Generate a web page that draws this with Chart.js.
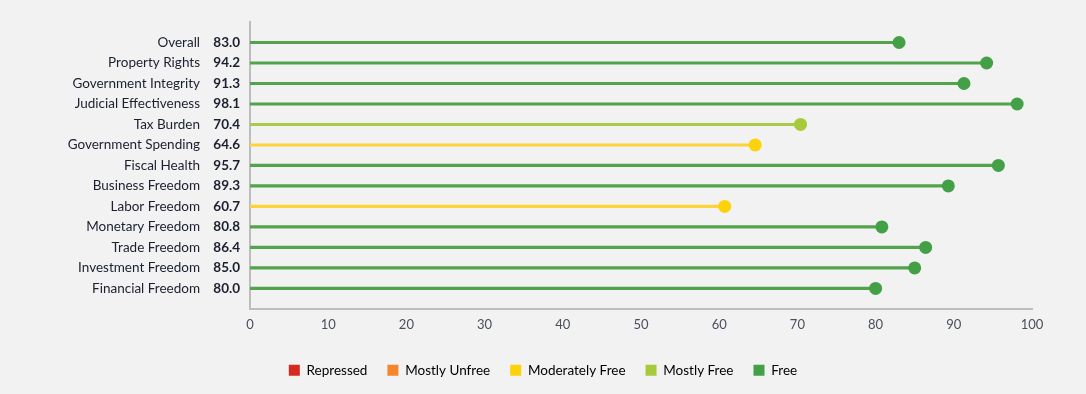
<!DOCTYPE html>
<html>
<head>
<meta charset="utf-8">
<script src="https://cdn.jsdelivr.net/npm/chart.js@4/dist/chart.umd.min.js"></script>
<style>
  html,body{margin:0;padding:0;background:#f2f2f2;}
  #wrap{width:1086px;height:394px;}
</style>
</head>
<body>
<div id="wrap"><canvas id="scoreChart" width="1086" height="394"></canvas></div>
<script>
// categories + scores
var labels=["Overall","Property Rights","Government Integrity","Judicial Effectiveness","Tax Burden","Government Spending","Fiscal Health","Business Freedom","Labor Freedom","Monetary Freedom","Trade Freedom","Investment Freedom","Financial Freedom"];
var scores=[83.0,94.2,91.3,98.1,70.4,64.6,95.7,89.3,60.7,80.8,86.4,85.0,80.0];
var ratings=["Free","Free","Free","Free","Mostly Free","Moderately Free","Free","Free","Moderately Free","Free","Free","Free","Free"];

// legend
var ratingNames=["Repressed","Mostly Unfree","Moderately Free","Mostly Free","Free"];
var ratingColors={"Repressed":"#d42a22","Mostly Unfree":"#f5862c","Moderately Free":"#fdd20b","Mostly Free":"#a6ca3a","Free":"#43a047"};
var stemColors={"Repressed":"#d42a22","Mostly Unfree":"#f5862c","Moderately Free":"#fcd43a","Mostly Free":"#a9cb48","Free":"#52a34c"};

var xTicks=[0,10,20,30,40,50,60,70,80,90,100];

var pointColors=ratings.map(function(r){return ratingColors[r];});
var lineColors=ratings.map(function(r){return stemColors[r];});

// left side labels: name + bold score
var rowLabels={
    id:"rowLabels",
    afterDraw:function(chart){
        var ctx=chart.ctx;
        var y=chart.scales.y;
        ctx.save();
        ctx.textBaseline="middle";
        ctx.textAlign="right";
        ctx.fillStyle="#1b1f2e";
        for(var i=0;i<labels.length;i++){
            var py=y.getPixelForValue(i+1);
            ctx.font="13.5px Lato";
            ctx.fillText(labels[i],200,py);
            ctx.font="bold 13.5px Lato";
            ctx.fillText(scores[i].toFixed(1),240,py);
        }
        ctx.restore();
    }
};

var ctx=document.getElementById("scoreChart").getContext("2d");
var scoreChart=new Chart(ctx,{
    type:"bar",
    data:{
        datasets:[
            {
                type:"line",
                label:"points",
                data:scores.map(function(v,i){return {x:v,y:i+1};}),
                showLine:false,
                pointRadius:6.5,
                pointBackgroundColor:pointColors,
                pointBorderWidth:0,
                order:0
            },
            {
                type:"bar",
                label:"stems",
                data:scores.map(function(v,i){return {x:v,y:i+1};}),
                backgroundColor:lineColors,
                barThickness:2.5,
                order:1
            }
        ]
    },
    options:{
        indexAxis:"y",
        responsive:false,
        animation:false,
        layout:{padding:{left:0,right:0,top:22,bottom:7}},
        scales:{
            x:{
                type:"linear",
                min:0,
                max:100,
                afterBuildTicks:function(axis){axis.ticks=xTicks.map(function(v){return {value:v};});},
                afterFit:function(axis){axis.height+=3;},
                grid:{display:false,drawTicks:false},
                border:{color:"#bdbdbd",width:2},
                ticks:{color:"#4a4f5a",font:{family:"Lato",size:13},padding:8}
            },
            y:{
                type:"linear",
                min:0,
                max:14,
                reverse:true,
                offset:false,
                afterFit:function(axis){axis.width=250;},
                grid:{display:false,drawTicks:false},
                border:{color:"#bdbdbd",width:2},
                ticks:{display:false}
            },
            yRight:{
                type:"linear",
                position:"right",
                min:0,
                max:14,
                afterFit:function(axis){axis.width=54;},
                grid:{display:false,drawTicks:false},
                border:{display:false},
                ticks:{display:false}
            }
        },
        plugins:{
            tooltip:{enabled:false},
            legend:{
                position:"bottom",
                labels:{
                    boxWidth:11,
                    boxHeight:11,
                    padding:20,
                    color:"#1b1f2e",
                    font:{family:"Lato",size:13.5},
                    generateLabels:function(){
                        return ratingNames.map(function(n){
                            return {text:n,fillStyle:ratingColors[n],strokeStyle:ratingColors[n],lineWidth:0,hidden:false};
                        });
                    }
                }
            }
        }
    },
    plugins:[rowLabels]
});
</script>
</body>
</html>
